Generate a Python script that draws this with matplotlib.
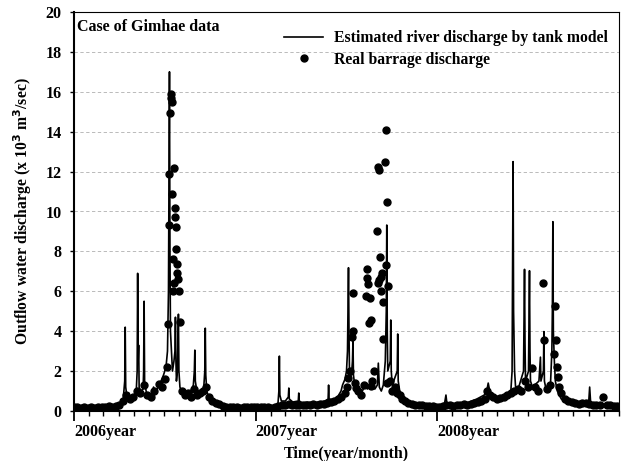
import numpy as np
import matplotlib
matplotlib.use("Agg")
import matplotlib.pyplot as plt
import matplotlib.dates as mdates

# estimated river discharge (tank model), days since 2006-01-01 -> x10^3 m3/sec
est_days = [0, 10, 20, 30, 40, 50, 60, 70, 80, 90, 98,
            99, 102, 103, 104, 106, 110, 115, 120,
            125, 127, 128, 129, 130, 131, 134,
            139, 140, 141, 142, 145, 150, 155, 160, 165, 170, 175, 180, 185, 188,
            190, 191, 192, 193, 194, 196, 198,
            201, 203, 204, 205, 206, 208, 209, 210, 211, 213, 216, 220, 225, 230, 235, 240,
            242, 243, 244, 247, 252, 257, 261,
            263, 264, 265, 267, 272, 280, 290, 300, 310, 320, 330, 340, 350, 360,
            370, 380, 390, 400, 410, 412, 413, 414, 417,
            425, 431, 432, 433, 440, 451, 452, 453, 460, 470, 480,
            505, 511, 512, 513, 520, 530, 537, 540, 545, 548,
            550, 551, 552, 553, 554, 558, 560, 561, 562, 565, 570, 575, 580, 585, 590, 595, 600, 605, 610,
            612, 614, 618, 622, 626, 628, 629, 630, 631, 636, 637, 638, 640,
            650, 651, 652, 655, 660, 670, 680, 690, 700, 710, 720, 730, 745, 748, 750,
            760, 770, 780, 790, 800, 810, 825, 830, 833, 836, 840, 845, 850, 860, 870, 878, 881,
            883, 884, 886, 888, 892, 904, 906, 907, 908, 914, 916, 917, 918, 922,
            935, 938, 939, 944, 945, 946, 950, 958, 961, 962, 963, 964, 966, 968, 972, 980, 990,
            1000, 1010, 1035, 1037, 1039, 1050, 1060, 1070, 1080, 1096]
est_vals = [0.25, 0.2, 0.3, 0.22, 0.28, 0.2, 0.3, 0.25, 0.3, 0.35, 0.5,
            0.6, 1.5, 4.2, 1.2, 0.8, 0.9, 0.6, 0.7,
            0.9, 2.0, 6.9, 2.5, 3.3, 1.2, 1.0,
            1.1, 2.0, 5.5, 1.5, 1.0, 0.6, 0.8, 1.2, 0.9, 1.3, 1.5, 1.8, 2.2, 3.0,
            6.0, 12.0, 17.0, 8.0, 4.0, 3.0, 2.0,
            2.5, 3.0, 4.7, 2.5, 1.5, 2.0, 3.5, 4.85, 2.0, 1.2, 1.0, 0.8, 0.9, 0.7, 1.0, 1.3,
            2.0, 3.05, 1.5, 1.0, 0.8, 0.9, 1.2,
            2.0, 4.15, 1.8, 1.0, 0.6, 0.45, 0.35, 0.3, 0.25, 0.3, 0.25, 0.2, 0.28, 0.25,
            0.25, 0.2, 0.3, 0.25, 0.3, 1.0, 2.75, 0.8, 0.5,
            0.5, 0.7, 1.15, 0.6, 0.45, 0.5, 0.9, 0.5, 0.4, 0.45, 0.4,
            0.5, 0.6, 1.3, 0.6, 0.55, 0.7, 1.0, 1.3, 1.6, 2.0,
            3.0, 5.0, 7.18, 4.0, 2.0, 1.8, 2.5, 3.5, 1.8, 1.2, 1.0, 0.8, 1.0, 1.3, 1.1, 1.3, 1.2, 1.1, 1.3,
            2.4, 1.2, 1.0, 1.3, 2.5, 5.0, 9.32, 4.0, 2.0, 2.5, 4.56, 2.0, 1.3,
            2.0, 3.86, 1.5, 1.0, 0.7, 0.5, 0.45, 0.4, 0.35, 0.3, 0.35, 0.3, 0.35, 0.8, 0.35,
            0.3, 0.35, 0.3, 0.4, 0.5, 0.6, 0.8, 1.0, 1.4, 1.0, 0.8, 0.7, 0.6, 0.6, 0.7, 0.8, 2.0,
            12.5, 5.0, 2.0, 1.2, 1.0, 2.0, 7.1, 3.4, 1.5, 2.0, 7.03, 3.0, 1.5, 1.2,
            1.5, 2.7, 1.5, 2.0, 3.98, 1.5, 1.0, 1.2, 3.0, 5.0, 9.49, 4.0, 2.5, 1.5, 1.0, 0.6, 0.45,
            0.4, 0.35, 0.4, 1.2, 0.4, 0.3, 0.35, 0.3, 0.28, 0.3]

# real barrage discharge
real_days = [0, 7, 14, 21, 28, 35, 42, 49, 56, 63, 70, 77, 84, 91,
             98, 105, 112, 119, 126, 133, 140, 147, 154, 161, 170, 176, 182, 187,
             190, 191, 192, 193, 195, 196, 197, 198, 199, 200, 201, 202, 203, 204, 205, 206,
             207, 208, 210, 211, 213,
             218, 224, 230, 236, 242, 248, 254, 260, 266, 272, 278, 285, 292,
             299, 306, 313, 320, 327, 334, 341, 348, 355, 362,
             369, 376, 383, 390, 397, 404, 411, 418, 425, 432, 439, 446, 453, 460, 467, 474,
             481, 488, 495, 502, 509, 516, 523, 530, 537, 544,
             548, 552, 555, 560, 561, 562, 565, 567, 572, 578, 584,
             588, 589, 590, 592, 594, 596, 597, 598, 600, 604,
             610, 611, 612, 613, 614, 616, 617, 618, 620, 621, 622,
             626, 627, 628, 629, 630, 632,
             636, 640, 645, 650, 655, 660, 666, 672,
             679, 686, 693, 700, 707, 714, 721, 728,
             735, 742, 749, 756, 763, 770, 777, 784, 791, 798, 805, 812, 819, 826,
             831, 836, 843, 850, 857, 864, 871, 878, 885, 892, 899,
             906, 913, 922, 927, 933, 944, 946, 952, 958, 966, 967, 969, 972, 973, 976, 980, 987,
             994, 1001, 1008, 1015, 1022, 1029, 1036, 1043, 1050, 1057, 1064, 1071, 1078, 1085, 1092]
real_vals = [0.18, 0.2, 0.15, 0.22, 0.17, 0.2, 0.16, 0.21, 0.18, 0.2, 0.23, 0.19, 0.25, 0.3,
             0.5, 0.8, 0.6, 0.7, 1.0, 0.9, 1.29, 0.8, 0.7, 1.0, 1.34, 1.2, 1.6, 2.2,
             4.36, 9.3, 11.9, 14.95, 15.9, 15.7, 15.5, 10.9, 7.6, 6.0, 6.4, 12.2, 10.2, 9.7, 8.1, 9.2,
             7.35, 6.9, 6.6, 6.0, 4.45,
             1.0, 0.8, 0.9, 0.7, 1.1, 0.8, 0.9, 1.0, 1.2, 0.7, 0.5, 0.4, 0.35,
             0.25, 0.2, 0.18, 0.22, 0.2, 0.17, 0.2, 0.19, 0.21, 0.18,
             0.2, 0.18, 0.2, 0.22, 0.17, 0.2, 0.25, 0.3, 0.28, 0.35, 0.3, 0.28, 0.3, 0.32, 0.3, 0.28,
             0.35, 0.3, 0.33, 0.35, 0.4, 0.45, 0.5, 0.6, 0.7, 0.9,
             1.2, 1.64, 2.0, 3.7, 5.93, 4.03, 1.4, 1.14, 1.0, 0.8, 1.3,
             5.76, 7.1, 6.65, 6.37, 4.4, 5.65, 4.56, 1.25, 1.5, 2.0,
             9.0, 6.43, 12.25, 6.57, 12.1, 7.73, 6.73, 6.03, 6.9, 5.48, 3.6,
             12.5, 14.1, 7.3, 10.5, 1.39, 6.27,
             1.5, 1.0, 1.2, 0.9, 0.8, 0.6, 0.5, 0.4,
             0.35, 0.3, 0.28, 0.3, 0.25, 0.27, 0.25, 0.22,
             0.22, 0.25, 0.3, 0.28, 0.25, 0.3, 0.32, 0.35, 0.3, 0.35, 0.4, 0.45, 0.5, 0.6,
             1.02, 0.8, 0.7, 0.6, 0.65, 0.7, 0.8, 0.9, 1.0, 1.1, 1.0,
             1.52, 1.22, 2.17, 1.2, 1.0, 6.4, 3.56, 1.1, 1.3, 2.84, 5.28, 3.56, 2.22, 1.72, 1.19, 0.9, 0.6,
             0.5, 0.45, 0.4, 0.35, 0.38, 0.4, 0.35, 0.3, 0.32, 0.3, 0.72, 0.28, 0.3, 0.27, 0.25]

year_ticks = ["2006-01-01", "2007-01-01", "2008-01-01"]
y_ticks = [0, 2, 4, 6, 8, 10, 12, 14, 16, 18, 20]

start = np.datetime64("2006-01-01")
est_x = start + np.array(est_days, dtype="timedelta64[D]")
real_x = start + np.array(real_days, dtype="timedelta64[D]")

plt.rcParams["font.family"] = ["Liberation Serif", "DejaVu Serif"]
plt.rcParams["font.weight"] = "bold"

fig = plt.figure(figsize=(6.22, 4.61), dpi=100)
ax = fig.add_axes([74 / 622, 1 - 411 / 461, 545 / 622, 399 / 461])

ax.plot(est_x, est_vals, color="black", lw=1.2, label="Estimated river discharge by tank model")
ax.plot(real_x, real_vals, "o", color="black", markersize=5, label="Real barrage discharge")

ax.set_xlim(start, np.datetime64("2009-01-01"))
ax.set_ylim(0, 20)
ax.set_yticks(y_ticks)
ax.yaxis.grid(True, linestyle=(0, (4, 3)), color="#b0b0b0", lw=0.6)
ax.set_axisbelow(True)

ax.set_xticks([np.datetime64(t) for t in year_ticks])
ax.xaxis.set_major_formatter(mdates.DateFormatter("%Yyear"))
ax.xaxis.set_minor_locator(mdates.MonthLocator())
ax.tick_params(axis="x", which="major", direction="out", length=7, width=1.3, labelsize=11.5, pad=2)
ax.tick_params(axis="x", which="minor", direction="out", length=3.5, width=1)
ax.tick_params(axis="y", direction="out", length=3, width=1, labelsize=11.5, pad=6)
for lab in ax.get_xticklabels():
    lab.set_ha("left")

for s in ["left", "bottom"]:
    ax.spines[s].set_linewidth(1.5)
for s in ["top", "right"]:
    ax.spines[s].set_linewidth(0.8)

ax.text(0.006, 0.983, "Case of Gimhae data", transform=ax.transAxes, va="top", ha="left",
        fontsize=11.5, fontweight="bold")
ax.legend(loc="upper right", bbox_to_anchor=(0.992, 0.97), frameon=False, fontsize=11.3,
          handlelength=2.5, handletextpad=0.7, labelspacing=0.35, borderaxespad=0)

ax.set_xlabel("Time(year/month)", fontsize=11.5, fontweight="bold", labelpad=5)
ax.set_ylabel("Outflow water discharge (x 10$^{\\mathbf{3}}$ m$^{\\mathbf{3}}$/sec)", fontsize=11.3,
              fontweight="bold", labelpad=8)

fig.savefig("out.png", dpi=100)
